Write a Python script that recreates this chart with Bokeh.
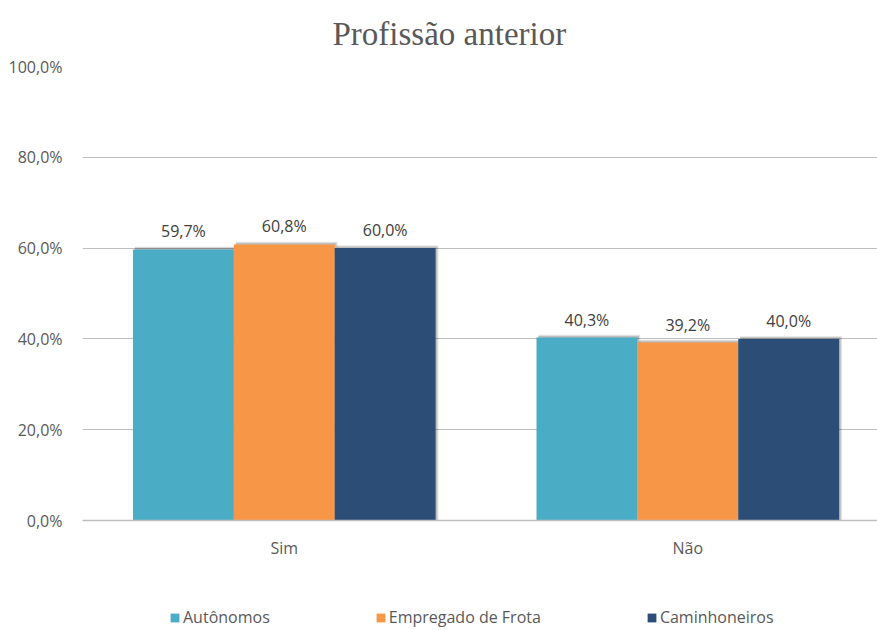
from bokeh.plotting import figure
from bokeh.layouts import column
from bokeh.models import ColumnDataSource, FixedTicker, Legend, LegendItem
from bokeh.core.properties import value
from bokeh.embed import file_html
from bokeh.resources import INLINE

categories = ["Sim", "Não"]
series_names = ["Autônomos", "Empregado de Frota", "Caminhoneiros"]
autonomos = [59.7, 40.3]
empregado = [60.8, 39.2]
caminhoneiros = [60.0, 40.0]
colors = ["#4bacc6", "#f79646", "#2c4d75"]
y_ticks = [0, 20, 40, 60, 80, 100]
y_tick_labels = ["0,0%", "20,0%", "40,0%", "60,0%", "80,0%", "100,0%"]

series = [autonomos, empregado, caminhoneiros]
offsets = [-0.25, 0.0, 0.25]
centers = [0.5, 1.5]

p = figure(width=877, height=580, output_backend="svg", toolbar_location=None,
           x_range=(0, 1.97), y_range=(0, 100),
           min_border_left=82, min_border_right=0, min_border_top=66, min_border_bottom=60)
p.background_fill_color = None
p.border_fill_color = "white"
p.outline_line_color = None

p.title.text = "Profissão anterior"
p.title.align = "left"
p.title.offset = 250
p.title.text_font = "Liberation Serif"
p.title.text_font_size = "33px"
p.title.text_font_style = "normal"
p.title.text_color = "#595959"
p.title.vertical_align = "top"
p.title.standoff = 25

# grid
p.xgrid.grid_line_color = None
p.ygrid.grid_line_color = "#bfbfbf"
p.ygrid.grid_line_width = 1
p.yaxis.ticker = FixedTicker(ticks=y_ticks)
p.yaxis.major_label_overrides = {t: l for t, l in zip(y_ticks, y_tick_labels)}
p.yaxis.axis_line_color = None
p.yaxis.major_tick_line_color = None
p.yaxis.minor_tick_line_color = None
p.yaxis.major_label_text_font = "Open Sans"
p.yaxis.major_label_text_font_size = "16px"
p.yaxis.major_label_text_color = "#595959"
p.yaxis.major_label_standoff = 14

p.xaxis.ticker = FixedTicker(ticks=centers)
p.xaxis.major_label_overrides = {c: l for c, l in zip(centers, categories)}
p.xaxis.axis_line_color = "#bfbfbf"
p.xaxis.axis_line_width = 1.5
p.xaxis.major_tick_line_color = None
p.xaxis.minor_tick_line_color = None
p.xaxis.major_label_text_font = "Open Sans"
p.xaxis.major_label_text_font_size = "16px"
p.xaxis.major_label_text_color = "#595959"
p.xaxis.major_label_standoff = 10

for name, vals, off, col in zip(series_names, series, offsets, colors):
    xs = [c + off for c in centers]
    # soft shadow
    p.vbar(x=[x + 0.006 for x in xs], top=[v + 0.6 for v in vals], width=0.252,
           fill_color="black", fill_alpha=0.12, line_color=None)
    p.vbar(x=[x + 0.004 for x in xs], top=[v + 0.35 for v in vals], width=0.25,
           fill_color="black", fill_alpha=0.15, line_color=None)

for name, vals, off, col in zip(series_names, series, offsets, colors):
    xs = [c + off for c in centers]
    src = ColumnDataSource(dict(x=xs, top=vals,
                                lbl=[("%.1f%%" % v).replace(".", ",") for v in vals]))
    p.vbar(x="x", top="top", width=0.25, source=src, fill_color=col, line_color=None)
    p.text(x="x", y="top", text="lbl", source=src, text_align="center", text_baseline="bottom",
           y_offset=-7, text_font=value("Open Sans"), text_font_size="16px", text_color="#404040")

# legend in its own strip below the chart
lg = figure(width=877, height=48, output_backend="svg", toolbar_location=None,
            x_range=(0, 1), y_range=(0, 1), min_border=0)
lg.axis.visible = False
lg.grid.visible = False
lg.outline_line_color = None
lg.background_fill_color = None
lg.border_fill_color = "white"
items = []
for name, col in zip(series_names, colors):
    r = lg.vbar(x=[0.5], top=[0], bottom=[0], width=0.0, fill_color=col, line_color=None)
    items.append(LegendItem(label=name, renderers=[r]))
legend = Legend(items=items, orientation="horizontal", location=(87, 0),
                glyph_width=11, glyph_height=11, label_standoff=3, spacing=105,
                padding=0, margin=0, border_line_color=None, background_fill_alpha=0,
                label_text_font="Open Sans", label_text_font_size="16px", label_text_color="#595959")
lg.add_layout(legend, "center")

layout = column(p, lg, spacing=0)
open("out.html", "w").write(file_html(layout, INLINE))
